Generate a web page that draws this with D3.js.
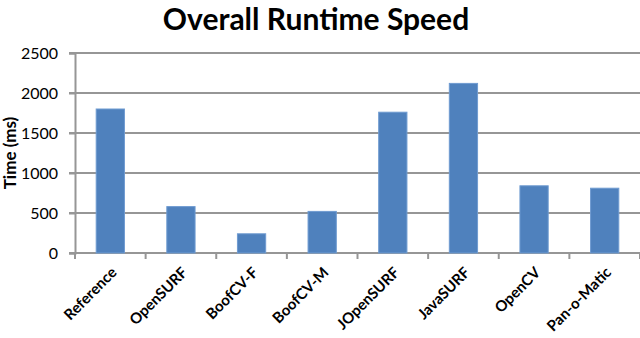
<!DOCTYPE html>
<html>
<head>
<meta charset="utf-8">
<script src="https://cdn.jsdelivr.net/npm/d3@7"></script>
<style>
  body { margin: 0; background: #fff; }
  text { font-family: Lato, "Open Sans", sans-serif; }
</style>
</head>
<body>
<div id="chart"></div>
<script>
const categories = ["Reference", "OpenSURF", "BoofCV-F", "BoofCV-M", "JOpenSURF", "JavaSURF", "OpenCV", "Pan-o-Matic"];
const times = [1800, 580, 240, 520, 1760, 2120, 840, 810];
const yTicks = [0, 500, 1000, 1500, 2000, 2500];

const width = 640;
const height = 338;
const margin = { top: 53, right: 0, bottom: 85, left: 75 };

const svg = d3.select("#chart")
  .append("svg")
  .attr("width", width)
  .attr("height", height);

const x = d3.scaleBand()
  .domain(categories)
  .range([margin.left, width - margin.right])
  .paddingInner(0.6)
  .paddingOuter(0.3);

const y = d3.scaleLinear()
  .domain([0, 2500])
  .range([height - margin.bottom, margin.top]);

// gridlines
svg.append("g")
  .selectAll("line")
  .data(yTicks)
  .join("line")
  .attr("x1", margin.left - 6)
  .attr("x2", width - margin.right)
  .attr("y1", d => y(d))
  .attr("y2", d => y(d))
  .attr("stroke", "#969696")
  .attr("stroke-width", 2);

// bars
svg.append("g")
  .selectAll("rect")
  .data(categories)
  .join("rect")
  .attr("x", d => x(d))
  .attr("y", (d, i) => y(times[i]))
  .attr("width", x.bandwidth())
  .attr("height", (d, i) => y(0) - y(times[i]))
  .attr("fill", "#4f81bd")
  .attr("stroke", "#6f9bd1")
  .attr("stroke-width", 1);

// y axis
const yAxis = svg.append("g")
  .attr("transform", `translate(${margin.left},0)`)
  .call(d3.axisLeft(y).tickValues(yTicks).tickFormat(d3.format("d")).tickSize(6).tickPadding(11));
yAxis.select(".domain").attr("stroke", "#969696").attr("stroke-width", 2);
yAxis.selectAll(".tick line").attr("stroke", "#969696").attr("stroke-width", 2);
yAxis.selectAll(".tick text")
  .attr("font-size", 16)
  .attr("font-family", "Lato")
  .attr("fill", "#000");

// x axis ticks at band boundaries
const step = x.step();
const bounds = d3.range(categories.length + 1).map(i => margin.left + i * step);
svg.append("g")
  .selectAll("line")
  .data(bounds)
  .join("line")
  .attr("x1", d => d)
  .attr("x2", d => d)
  .attr("y1", y(0))
  .attr("y2", y(0) + 6)
  .attr("stroke", "#969696")
  .attr("stroke-width", 2);

// x labels
svg.append("g")
  .selectAll("text")
  .data(categories)
  .join("text")
  .attr("transform", d => `translate(${x(d) + x.bandwidth() / 2},${y(0) + 13}) rotate(-45)`)
  .attr("text-anchor", "end")
  .attr("dy", "0.7em")
  .attr("font-size", 15)
  .attr("font-weight", "bold")
  .text(d => d);

// y axis title
svg.append("text")
  .attr("transform", `translate(16,153) rotate(-90)`)
  .attr("text-anchor", "middle")
  .attr("font-size", 17)
  .attr("font-weight", "bold")
  .text("Time (ms)");

// title
svg.append("text")
  .attr("x", 316)
  .attr("y", 30)
  .attr("text-anchor", "middle")
  .attr("font-size", 30)
  .attr("font-weight", "bold")
  .text("Overall Runtime Speed");
</script>
</body>
</html>
